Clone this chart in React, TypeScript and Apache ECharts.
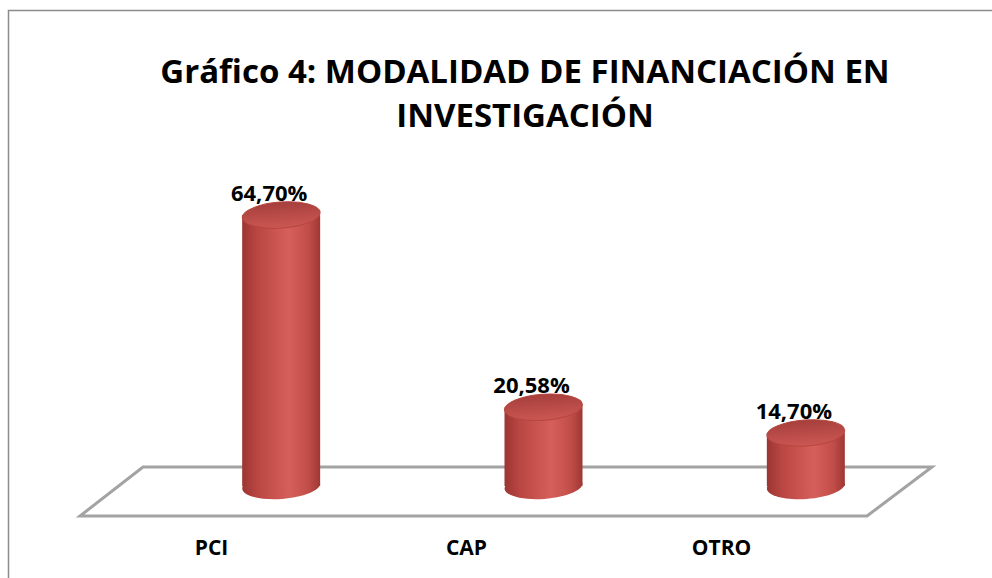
import React, { useEffect, useRef } from "react";
import * as echarts from "echarts";

const categories = ["PCI", "CAP", "OTRO"];
const values = [64.7, 20.58, 14.7];
const titleText = "Gráfico 4: MODALIDAD DE FINANCIACIÓN EN\nINVESTIGACIÓN";

const FONT = "'Open Sans', 'Liberation Sans', sans-serif";

const fmt = (v: number) => v.toFixed(2).replace(".", ",") + "%";

export default function App() {
  const ref = useRef<HTMLDivElement>(null);
  useEffect(() => {
    if (!ref.current) return;
    const chart = echarts.init(ref.current, undefined, { renderer: "svg" });
    const rx = 39;
    const ry = 13;
    const tilt = 0.07;
    const renderItem = (params: any, api: any) => {
      const idx = api.value(0);
      const v = api.value(1);
      const top = api.coord([idx, v]);
      const base = api.coord([idx, 0]);
      const cx = top[0];
      const topY = top[1];
      const bottomY = base[1] - 11;
      const bodyGrad = new echarts.graphic.LinearGradient(0, 0, 1, 0, [
        { offset: 0, color: "#9c3532" },
        { offset: 0.2, color: "#ba4743" },
        { offset: 0.6, color: "#d65f5b" },
        { offset: 0.85, color: "#c14d49" },
        { offset: 1, color: "#9f3734" },
      ]);
      const topGrad = new echarts.graphic.LinearGradient(0, 0, 0, 1, [
        { offset: 0, color: "#a63f3c" },
        { offset: 1, color: "#cc5753" },
      ]);
      return {
        type: "group",
        children: [
          {
            type: "ellipse",
            x: cx,
            y: bottomY,
            rotation: tilt,
            shape: { cx: 0, cy: 0, rx, ry },
            style: { fill: bodyGrad },
          },
          {
            type: "rect",
            shape: { x: cx - rx, y: topY, width: rx * 2, height: bottomY - topY },
            style: { fill: bodyGrad },
          },
          {
            type: "ellipse",
            x: cx,
            y: topY,
            rotation: tilt,
            shape: { cx: 0, cy: 0, rx, ry },
            style: { fill: topGrad, stroke: "#b6473f", lineWidth: 1 },
          },
          {
            type: "text",
            x: cx - 12,
            y: topY - ry + 1,
            style: {
              text: fmt(v),
              align: "center",
              verticalAlign: "bottom",
              fontSize: 22,
              fontWeight: "bold",
              fontFamily: FONT,
              fill: "#000",
            },
          },
        ],
      };
    };

    chart.setOption({
      animation: false,
      backgroundColor: "#fff",
      grid: [
        { left: 84, right: 143, top: 100, bottom: 58 },
        { left: 150, right: 55, top: 192, bottom: 81 },
      ],
      xAxis: [
        {
          type: "category",
          gridIndex: 0,
          data: categories,
          axisLine: { show: false },
          axisTick: { show: false },
          axisLabel: {
            margin: 16,
            fontSize: 21,
            fontWeight: "bold",
            fontFamily: FONT,
            color: "#000",
          },
        },
        {
          type: "category",
          gridIndex: 1,
          data: categories,
          show: false,
        },
      ],
      yAxis: [
        { type: "value", gridIndex: 0, show: false, min: 0, max: 1 },
        { type: "value", gridIndex: 1, show: false, min: 0, max: 70, splitLine: { show: false } },
      ],
      graphic: [
        {
          type: "rect",
          z: 0,
          shape: { x: 8.5, y: 10.5, width: 1200, height: 800 },
          style: { fill: "none", stroke: "#8c8c8c", lineWidth: 1.5 },
        },
        {
          type: "polygon",
          z: 0,
          shape: { points: [[80, 516], [867, 516], [932, 467], [143, 467]] },
          style: { fill: "none", stroke: "#a3a3a3", lineWidth: 3 },
        },
        {
          type: "text",
          z: 1,
          x: 525,
          y: 48,
          style: {
            text: titleText,
            align: "center",
            verticalAlign: "top",
            fontSize: 33,
            fontWeight: "bold",
            fontFamily: FONT,
            lineHeight: 44,
            fill: "#000",
          },
        },
      ],
      series: [
        {
          type: "custom",
          xAxisIndex: 1,
          yAxisIndex: 1,
          z: 5,
          renderItem,
          data: values.map((v, i) => [i, v]),
        },
      ],
    });
    return () => chart.dispose();
  }, []);
  return (
    <div
      ref={ref}
      style={{ position: "fixed", left: 0, top: 0, width: 992, height: 578 }}
    />
  );
}
